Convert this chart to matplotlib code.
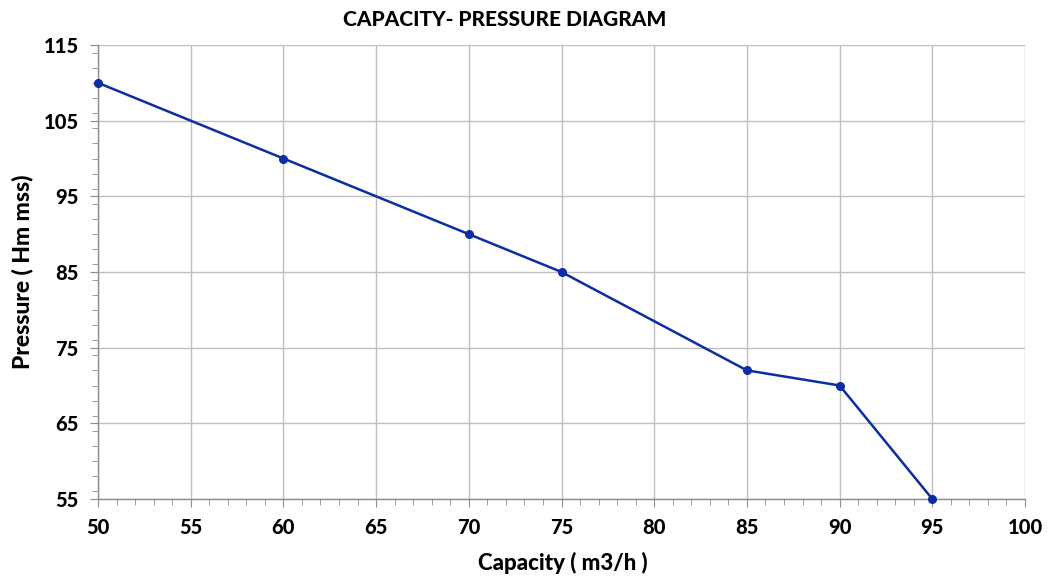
import matplotlib
matplotlib.use("Agg")
import matplotlib.pyplot as plt
from matplotlib.ticker import MultipleLocator

capacity = [50, 60, 70, 75, 85, 90, 95]
pressure = [110, 100, 90, 85, 72, 70, 55]
x_ticks = [50, 55, 60, 65, 70, 75, 80, 85, 90, 95, 100]
y_ticks = [55, 65, 75, 85, 95, 105, 115]

plt.rcParams['font.family'] = ['Lato', 'DejaVu Sans']
W = 'black'

fig = plt.figure(figsize=(10.48, 5.76), dpi=100)
ax = fig.add_axes([98/1048, 1 - 499/576, (1025-98)/1048, (499-45)/576])

ax.plot(capacity, pressure, color='#0b2ea3', linewidth=1.8, marker='o',
        markersize=5.5, zorder=3, clip_on=False)

ax.set_xlim(50, 100)
ax.set_ylim(55, 115)
ax.set_xticks(x_ticks)
ax.set_yticks(y_ticks)
ax.xaxis.set_minor_locator(MultipleLocator(1))
ax.yaxis.set_minor_locator(MultipleLocator(2))
ax.grid(True, which='major', color='#bfbfbf', linewidth=1.0)
ax.set_axisbelow(True)

for s in ['top', 'right']:
    ax.spines[s].set_visible(False)
for s in ['left', 'bottom']:
    ax.spines[s].set_color('#8c8c8c')
    ax.spines[s].set_linewidth(1.0)

ax.tick_params(axis='both', which='major', direction='out', length=6,
               color='#8c8c8c', labelsize=14.5, pad=8)
ax.tick_params(axis='both', which='minor', direction='out', length=4,
               color='#8c8c8c')
for lbl in ax.get_xticklabels() + ax.get_yticklabels():
    lbl.set_fontweight(W)

fig.text(563/1048, 1 - 563/576, 'Capacity ( m3/h )', ha='center', va='center',
         fontsize=16, fontweight=W)
fig.text(22/1048, 1 - 272/576, 'Pressure ( Hm mss)', ha='center', va='center',
         fontsize=16.5, fontweight=W, rotation=90)
fig.text(505/1048, 1 - 20/576, 'CAPACITY- PRESSURE DIAGRAM', ha='center',
         va='center', fontsize=15, fontweight=W)

fig.savefig('out.png', dpi=100, facecolor='white')
